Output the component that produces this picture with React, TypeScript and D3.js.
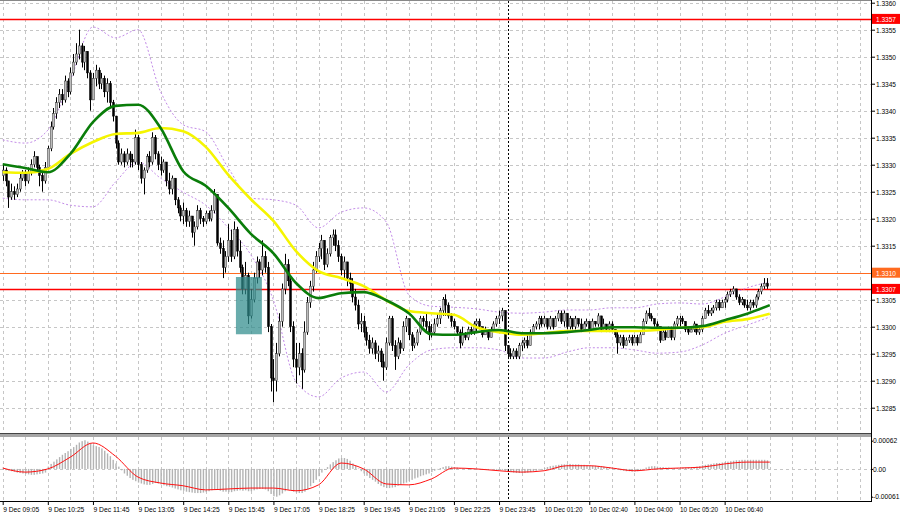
import React, { useEffect, useRef } from 'react';
import * as d3 from 'd3';

// prices are stored in pips above 1.3300
const BASE = 1.33;
const FIRST_OPEN = 28;

const closes = [
  29, 27, 24, 25, 24.5, 25.5, 27.5, 28.5,
  27, 28.5, 30, 31.5, 29.5, 28, 27, 29.5,
  33, 37, 39.5, 41.5, 43, 42, 45.5, 43.5,
  47, 49, 50.5, 52, 49, 51, 47, 42,
  46, 47.5, 45, 46, 43.5, 45, 41.5, 39,
  34, 30.5, 32, 30.5, 32, 31, 30.5, 35,
  30, 27.5, 29, 31.5, 30.5, 35, 32, 30,
  29, 30.5, 27, 25.5, 27.5, 23.5, 22, 20.5,
  21.5, 19.5, 20.5, 17.5, 18.5, 21.5, 20, 19.5,
  21, 20, 21.5, 24.5, 15.5, 14.5, 11, 13,
  16, 13, 18, 14, 11, 7, 9.5, 2,
  5, 9, 12, 10.5, 13, 11, 0, -9.5,
  -10, -5, 1, 7, 11.5, 8.5, 0, -6,
  -7.5, -5, -8, -1, 4.5, 7.5, 10.5, 13,
  14.5, 16, 11.5, 13.5, 16.5, 17, 15, 13,
  10.5, 12, 9, 8, 5.5, 4, 0.5, 1,
  -1, -2.5, -4, -3, -5, -4.5, -6.5, -7.5,
  -3, 1.5, -3.5, -5.5, -3, -4, 0, 1.5,
  -1.5, -3.5, -3, -1, 1.5, 1, 0, -1.5,
  -1, 0.5, 1.5, 3, 5, 4, 2, 1,
  0, -1, -3, -1.5, -2, -0.5, -1, 0.5,
  1, 0, -1.5, -0.5, -2, -0.5, 0.5, 1.5,
  2, 3, -3.5, -5, -5.5, -4.5, -5.5, -3.5,
  -3, -2.5, -3.5, -1, 0, 0.5, 1.5, 0.5,
  1.5, 0, 1.5, 0, 1.5, 2.5, 1, 2.5,
  0, 1.5, 0, 1.5, 0.5, -0.5, 0.5, 1,
  -0.5, 1, 0.5, 2, -0.5, 0.5, -0.5, 0.5,
  -0.5, -1.5, -3, -2, -3.5, -2.5, -2, -3,
  -2, -3, -1.5, 1, 2.5, 2, 1.5, 0.5,
  0, -2.5, -1, -2, -0.5, -2, 0.5, 1.5,
  1.5, 1, -0.5, -1, -0.5, 0.5, -1, -0.5,
  1.5, 3, 2.5, 3, 3.5, 4.5, 3.5, 4.5,
  5, 6, 6.5, 7, 5.5, 4.5, 5, 4,
  3.5, 4.5, 4, 5.5, 6.5, 7.5, 8, 7.5,
];

const highs = [
  30, 29.5, 27, 26.5, 26, 26.5, 28.5, 29,
  29, 29.5, 31, 32.5, 31.5, 30, 29, 30.5,
  33.5, 38, 40.5, 42.5, 44, 44, 46.5, 46,
  48, 50.5, 52.5, 55, 52.5, 52, 51, 47.5,
  47, 48.5, 48, 47, 46.5, 46, 45.5, 42,
  39, 34.5, 33, 32.5, 33, 32.5, 32, 36.5,
  35.5, 30.5, 29.5, 32, 32.5, 36, 35.5, 32.5,
  31.5, 31, 30.5, 28.5, 28, 27.5, 24, 22.5,
  23, 22, 21.5, 20.5, 19.5, 22.5, 22, 20.5,
  21.5, 21.5, 22.5, 25.5, 24.5, 16.5, 16, 14,
  19, 18, 19.5, 18.5, 16, 11.5, 12, 10,
  7, 10, 13, 12.5, 16, 14, 12, 0.5,
  -6, -3, 2.5, 8, 13.5, 12.5, 9, 1,
  -3, -3, -4, 1, 5.5, 8.5, 12, 14,
  15.5, 17, 16, 14.5, 17, 18, 18, 16,
  13.5, 13, 12, 10, 9, 7, 5, 2.5,
  2, 0, -1.5, -2, -2.5, -3.5, -4, -5,
  -2, 2, 2, -2.5, -2, -2.5, 1, 2,
  1, -1, -2, -0.5, 2, 2, 2.5, 1,
  0.5, 1.5, 2.5, 3.5, 5.5, 6, 4.5, 2.5,
  1.5, 0, -0.5, 0, -1, 0, 0, 1,
  1.5, 1.5, 0, 0, -0.5, 0, 1, 2,
  3, 3.5, 3, -3.5, -4, -4, -4, -3,
  -2.5, -2, -1.5, -0.5, 0.5, 1, 2, 2,
  2, 1.5, 2, 1.5, 2, 3, 3, 3,
  2.5, 2, 1.5, 2, 1.5, 1.5, 1, 1.5,
  1, 1.5, 1, 2.5, 2, 1.5, 0.5, 1,
  1, -0.5, -1, -1.5, -1.5, -2, -1.5, -1.5,
  -1.5, -1.5, -1, 1.5, 3, 3.5, 2.5, 1.5,
  1, 0, -0.5, -0.5, 0, 0, 1, 2,
  2, 2, 1, 0, 0, 1, 0.5, 0,
  2, 3.5, 4, 3.5, 4, 5, 5, 5,
  5.5, 6.5, 7, 7.5, 7, 6, 5.5, 5,
  5, 5, 5, 6, 7, 8, 9, 9,
];

const lows = [
  27, 26, 22, 23.5, 23.5, 24, 25, 27,
  26, 26.5, 28, 29.5, 28.5, 26, 25, 26.5,
  29, 32.5, 36.5, 38.5, 40.5, 41, 41.5, 42.5,
  43, 46.5, 48.5, 49.5, 48, 47.5, 46, 40,
  42, 44.5, 44, 44, 42.5, 41.5, 40.5, 38,
  33, 30, 30, 29.5, 30, 29.5, 29.5, 30,
  29, 26.5, 24.5, 28.5, 29.5, 30, 31, 29,
  28, 28.5, 26, 24.5, 24.5, 22.5, 21, 19.5,
  19, 18.5, 18.5, 16.5, 15, 18, 19, 18.5,
  19, 19.5, 19.5, 21, 15, 13.5, 9, 10,
  12, 12, 12.5, 13, 10, 6, 6, 0.5,
  1.5, 4.5, 8, 9, 9.5, 10, -1, -12,
  -14, -12, -5.5, 0, 6, 7.5, -1, -7.5,
  -10.5, -9, -11.5, -8.5, -1.5, 3.5, 6.5, 10,
  12, 12.5, 10.5, 11, 13, 15, 14, 12,
  9.5, 9, 7.5, 6.5, 4.5, 3, -0.5, -1,
  -2, -3.5, -5, -5, -6, -6.5, -7.5, -10,
  -8, -3.5, -4.5, -8, -6, -5, -4.5, -1,
  -2.5, -4.5, -4, -3.5, -1.5, 0, -1, -2.5,
  -2, -1.5, 0, 0.5, 2, 2, 1.5, 0,
  -0.5, -1.5, -4, -3.5, -2.5, -2.5, -1.5, -1.5,
  -1, -0.5, -2, -1.5, -2.5, -2, -1, 0,
  0.5, 1, -4.5, -6, -6, -6, -6, -6,
  -4.5, -4, -4, -3.5, -1.5, -0.5, -0.5, 0,
  0, -0.5, -0.5, -0.5, 0, 1, 0.5, 0,
  -0.5, -0.5, -0.5, -0.5, 0, -1, -0.5, 0,
  -1, -0.5, 0, 0, -1, -0.5, -1, -1,
  -1, -2, -5, -3.5, -4, -3.5, -3, -3.5,
  -3, -3.5, -3, -1.5, 0.5, 1.5, 1, 0,
  -0.5, -3, -2.5, -2.5, -2, -2.5, -2.5, 0,
  0, 0.5, -1, -1.5, -1, -1, -1.5, -1.5,
  -1, 1.5, 2, 2, 2.5, 3, 3, 3.5,
  3.5, 4.5, 5.5, 6, 5, 4, 4, 3.5,
  3, 3, 3.5, 3.5, 5, 6, 7, 7,
];

// indicator lines read every 8 bars (pips above 1.3300)
const LINE_STEP = 8;
const maGreen = [30.1, 29.4, 28.6, 32.0, 37.9, 40.9, 41.1, 36.8, 28.8, 26.1, 22.0, 17.2, 13.6, 8.1, 5.3, 6.2, 6.4, 4.9, 2.5, -1.4, -1.5, -1.0, -0.6, -1.2, -1.2, -1.0, -0.6, -0.1, -0.1, -0.2, -0.2, 0.1, 1.2, 2.4, 4.0];
const maYellow = [28.6, 28.5, 29.2, 32.0, 34.2, 35.7, 35.9, 36.8, 36.2, 33.3, 28.1, 23.6, 19.6, 14.0, 10.3, 9.0, 7.5, 4.9, 2.9, 2.5, 2.2, -0.1, -1.0, -1.5, -1.2, -0.8, -0.8, -0.8, -0.8, -0.6, -0.2, -0.1, 0.9, 1.4, 2.4];
const bandUpper = [34.6, 34.0, 36.4, 45.7, 55.5, 53.5, 55.0, 43.5, 37.4, 36.1, 29.4, 23.8, 23.5, 22.5, 18.3, 21.2, 22.0, 19.4, 5.9, 3.8, 3.6, 3.3, 2.7, 2.5, 2.7, 3.1, 3.1, 3.5, 3.5, 4.2, 4.4, 4.2, 5.5, 7.2, 8.3];
const bandLower = [23.8, 23.5, 23.5, 22.5, 22.2, 26.8, 30.5, 27.5, 24.9, 22.5, 18.3, 13.3, 4.9, -10.2, -13.0, -9.5, -8.4, -12.1, -7.1, -4.3, -3.9, -3.9, -4.3, -5.8, -5.8, -4.7, -3.9, -3.9, -4.3, -4.9, -4.7, -3.4, -1.2, 0.3, 1.8];

// MACD histogram per bar and signal every 8 bars, in units of 0.00001
const macdHist = [
  -2, -3, -4, -5, -6, -8, -9, -10,
  -11, -12, -13, -13, -12, -11, -10, -8,
  5, 11, 16, 21, 26, 31, 35, 39,
  44, 48, 53, 58, 61, 63, 60, 56,
  52, 50, 48, 45, 40, 34, 28, 20,
  12, 5, -3, -10, -15, -20, -24, -27,
  -30, -32, -34, -35, -35, -33, -31, -32,
  -34, -36, -38, -39, -41, -43, -45, -47,
  -48, -50, -51, -52, -53, -53, -53, -52,
  -51, -49, -47, -45, -46, -48, -50, -50,
  -51, -51, -49, -48, -47, -48, -47, -49,
  -49, -47, -45, -44, -44, -45, -49, -55,
  -60, -61, -58, -54, -49, -46, -47, -50,
  -52, -53, -53, -50, -45, -38, -31, -24,
  -16, -8, -2, 4, 10, 15, 19, 23,
  24, 24, 22, 18, 12, 7, 1, -5,
  -10, -15, -20, -24, -28, -33, -37, -40,
  -42, -42, -41, -40, -37, -35, -32, -30,
  -27, -24, -21, -19, -16, -14, -12, -10,
  -7, -4, -1, 2, 4, 6, 6, 5,
  4, 3, 2, 1, 1, 0, 0, 0,
  0, -1, -1, -1, -2, -1, -1, -2,
  -2, -2, -4, -6, -7, -8, -9, -9,
  -9, -9, -8, -7, -5, -4, -2, 0,
  2, 4, 6, 7, 8, 9, 10, 10,
  10, 11, 10, 10, 10, 9, 9, 8,
  8, 7, 7, 6, 6, 5, 4, 3,
  2, 0, -2, -3, -4, -5, -5, -6,
  -6, -5, -3, 0, 3, 5, 6, 6,
  5, 4, 4, 3, 3, 2, 2, 2,
  2, 3, 3, 3, 4, 4, 5, 6,
  8, 9, 10, 11, 12, 13, 13, 14,
  15, 16, 17, 18, 19, 19, 20, 20,
  20, 20, 20, 20, 20, 20, 20, 19,
];
const macdSignal = [2, -7, 0, 26, 57, 28, -18, -31, -37, -46, -44, -42, -42, -48, -35, 13, 0, -33, -35, -22, 2, 0, -4, -7, -4, 7, 7, 2, -4, 0, 2, 4, 11, 15, 15];

const priceTicks = [1.3285, 1.329, 1.3295, 1.33, 1.3305, 1.331, 1.3315, 1.332, 1.3325, 1.333, 1.3335, 1.334, 1.3345, 1.335, 1.3355, 1.336];
const subTicks = [0.00062, 0, -0.00061];
const subTickLabels = ['0.00062', '0.00', '-0.00061'];

const timeLabels = [
  '9 Dec 09:05', '9 Dec 10:25', '9 Dec 11:45', '9 Dec 13:05', '9 Dec 14:25', '9 Dec 15:45',
  '9 Dec 17:05', '9 Dec 18:25', '9 Dec 19:45', '9 Dec 21:05', '9 Dec 22:25', '9 Dec 23:45',
  '10 Dec 01:20', '10 Dec 02:40', '10 Dec 04:00', '10 Dec 05:20', '10 Dec 06:40',
];
const LABEL_STEP = 16;
const daySeparator = 179;

const levels = [1.3357, 1.331, 1.3307];
const levelColors = ['#ff0000', '#ff6a1f', '#ff0000'];

// highlighted zone: bar range and price range
const zoneBars = [82.7, 91.9];
const zonePrices = [1.32986, 1.33092];

const W = 900;
const H = 516;

const App: React.FC = () => {
  const svgRef = useRef<SVGSVGElement>(null);

  useEffect(() => {
    if (!svgRef.current) return;
    const svg = d3.select(svgRef.current);
    svg.selectAll('*').remove();

    const plotRight = 871;
    const mainBottom = 433;
    const subTop = 437;
    const subBottom = 501;
    const labelFont = '"Liberation Sans", Arial, sans-serif';
    const gridColor = '#c6c6c6';

    const x = d3.scaleLinear().domain([0, 308]).range([2.7, 871.3]);
    const y = d3.scaleLinear().domain([1.328, 1.336]).range([434.7, 2.7]);
    const yi = d3.scaleLinear().domain([-0.00061, 0.00062]).range([496.7, 440.7]);
    const toPrice = (p: number) => BASE + p / 10000;

    svg.append('rect').attr('width', W).attr('height', H).attr('fill', '#fff');

    const defs = svg.append('defs');
    defs.append('clipPath').attr('id', 'clipMain')
      .append('rect').attr('x', 0).attr('y', 1).attr('width', plotRight).attr('height', mainBottom - 1);
    defs.append('clipPath').attr('id', 'clipSub')
      .append('rect').attr('x', 0).attr('y', subTop).attr('width', plotRight).attr('height', subBottom - subTop);

    // Grid
    const vGrid = d3.range(0, 309, LINE_STEP).filter(i => x(i) < plotRight - 2);
    const gridG = svg.append('g').attr('stroke', gridColor).attr('stroke-dasharray', '3,3').attr('stroke-width', 1);
    vGrid.forEach(i => {
      const gx = Math.round(x(i)) + 0.5;
      gridG.append('line').attr('x1', gx).attr('x2', gx).attr('y1', 1).attr('y2', mainBottom);
      gridG.append('line').attr('x1', gx).attr('x2', gx).attr('y1', subTop).attr('y2', subBottom);
    });
    priceTicks.forEach(p => {
      const gy = Math.round(y(p)) + 0.5;
      if (gy > mainBottom - 1 || gy < 2) return;
      gridG.append('line').attr('x1', 0).attr('x2', plotRight).attr('y1', gy).attr('y2', gy);
    });
    gridG.append('line').attr('x1', 0).attr('x2', plotRight)
      .attr('y1', Math.round(yi(0)) + 0.5).attr('y2', Math.round(yi(0)) + 0.5);

    const main = svg.append('g').attr('clip-path', 'url(#clipMain)');

    // Level lines
    levels.forEach((lv, k) => {
      const ly = Math.round(y(lv)) + 0.5;
      main.append('line').attr('x1', 0).attr('x2', plotRight).attr('y1', ly).attr('y2', ly)
        .attr('stroke', levelColors[k]).attr('stroke-width', k === 1 ? 1 : 1.5);
    });

    // Bollinger bands
    const lineFor = d3.line<number>()
      .x((d, i) => x(i * LINE_STEP))
      .y(d => y(toPrice(d)))
      .curve(d3.curveMonotoneX);
    [bandUpper, bandLower].forEach(band => {
      main.append('path').datum(band).attr('fill', 'none')
        .attr('stroke', '#c38ce8').attr('stroke-width', 1).attr('stroke-dasharray', '2,2')
        .attr('d', lineFor);
    });

    // Candles
    const candles = main.append('g');
    closes.forEach((c, i) => {
      const o = i === 0 ? FIRST_OPEN : closes[i - 1];
      const hi = Math.max(highs[i], o, c);
      const lo = Math.min(lows[i], o, c);
      const xc = Math.round(x(i));
      candles.append('line')
        .attr('x1', xc + 0.5).attr('x2', xc + 0.5)
        .attr('y1', y(toPrice(hi))).attr('y2', y(toPrice(lo)))
        .attr('stroke', '#000').attr('stroke-width', 1);
      const top = y(toPrice(Math.max(o, c)));
      const bot = y(toPrice(Math.min(o, c)));
      const bull = c >= o;
      candles.append('rect')
        .attr('x', xc - 0.5).attr('width', 2)
        .attr('y', top).attr('height', Math.max(1, bot - top))
        .attr('fill', bull ? '#bdbdbd' : '#000')
        .attr('stroke', bull ? '#333' : '#000').attr('stroke-width', 0.5);
    });

    // Moving averages
    main.append('path').datum(maYellow).attr('fill', 'none')
      .attr('stroke', '#f5f500').attr('stroke-width', 2.6).attr('d', lineFor);
    main.append('path').datum(maGreen).attr('fill', 'none')
      .attr('stroke', '#0a7d0a').attr('stroke-width', 2.6).attr('d', lineFor);

    // Highlighted zone
    main.append('rect')
      .attr('x', x(zoneBars[0])).attr('width', x(zoneBars[1]) - x(zoneBars[0]))
      .attr('y', y(zonePrices[1])).attr('height', y(zonePrices[0]) - y(zonePrices[1]))
      .attr('fill', '#2f8c8c').attr('opacity', 0.72);

    // MACD panel
    const sub = svg.append('g').attr('clip-path', 'url(#clipSub)');
    macdHist.forEach((v, i) => {
      const val = v / 100000;
      const y0 = yi(0);
      const y1 = yi(val);
      sub.append('rect')
        .attr('x', x(i) - 0.2).attr('width', 1.4)
        .attr('y', Math.min(y0, y1)).attr('height', Math.max(0.5, Math.abs(y1 - y0)))
        .attr('fill', '#b3b3b3');
    });
    const sigLine = d3.line<number>()
      .x((d, i) => x(i * LINE_STEP))
      .y(d => yi(d / 100000))
      .curve(d3.curveMonotoneX);
    sub.append('path').datum(macdSignal).attr('fill', 'none')
      .attr('stroke', '#ff1010').attr('stroke-width', 1).attr('d', sigLine);

    // Day separator
    const sx = Math.round(x(daySeparator)) + 0.5;
    svg.append('line').attr('x1', sx).attr('x2', sx).attr('y1', 1).attr('y2', subBottom)
      .attr('stroke', '#000').attr('stroke-width', 1).attr('stroke-dasharray', '2,2');

    // Frames
    svg.append('line').attr('x1', 0).attr('x2', plotRight).attr('y1', 0.5).attr('y2', 0.5)
      .attr('stroke', '#888').attr('stroke-width', 1);
    svg.append('rect').attr('x', 0).attr('y', mainBottom).attr('width', plotRight).attr('height', 4)
      .attr('fill', '#a6a6a6');
    svg.append('line').attr('x1', 0).attr('x2', plotRight).attr('y1', mainBottom + 0.5).attr('y2', mainBottom + 0.5)
      .attr('stroke', '#444');
    svg.append('line').attr('x1', 0).attr('x2', plotRight).attr('y1', subBottom + 0.5).attr('y2', subBottom + 0.5)
      .attr('stroke', '#000');
    svg.append('line').attr('x1', plotRight + 0.5).attr('x2', plotRight + 0.5).attr('y1', 0).attr('y2', subBottom + 1)
      .attr('stroke', '#000');

    // Price axis
    const priceAxis = svg.append('g')
      .attr('transform', `translate(${plotRight + 1},0)`)
      .call(d3.axisRight(y).tickValues(priceTicks).tickSize(3).tickPadding(1).tickFormat(d3.format('.4f')));
    priceAxis.select('.domain').remove();
    priceAxis.selectAll('text')
      .style('font-family', labelFont).style('font-size', '8px').attr('fill', '#000')
      .attr('textLength', 20).attr('lengthAdjust', 'spacingAndGlyphs');

    // Level labels
    levels.forEach((lv, k) => {
      const ly = y(lv);
      svg.append('rect').attr('x', plotRight + 1).attr('y', ly - 5).attr('width', 29).attr('height', 10)
        .attr('fill', levelColors[k]);
      svg.append('text').attr('x', plotRight + 5).attr('y', ly + 3)
        .style('font-family', labelFont).style('font-size', '8px').attr('fill', '#fff')
        .attr('textLength', 20).attr('lengthAdjust', 'spacingAndGlyphs')
        .text(d3.format('.4f')(lv));
    });

    // Indicator axis
    const subAxis = svg.append('g')
      .attr('transform', `translate(${plotRight + 1},0)`)
      .call(d3.axisRight(yi).tickValues(subTicks).tickSize(1).tickPadding(0)
        .tickFormat((d, i) => subTickLabels[i]));
    subAxis.select('.domain').remove();
    subAxis.selectAll('text')
      .style('font-family', labelFont).style('font-size', '6.7px').attr('fill', '#000');

    // Time axis
    const timeAxis = svg.append('g')
      .attr('transform', `translate(0,${subBottom + 1})`)
      .call(d3.axisBottom(x).tickValues(timeLabels.map((_, j) => j * LABEL_STEP)).tickSize(3)
        .tickFormat((d, j) => timeLabels[j]));
    timeAxis.select('.domain').remove();
    timeAxis.selectAll('text')
      .style('font-family', labelFont).style('font-size', '8px')
      .attr('fill', '#000').attr('text-anchor', 'start').attr('dx', 0).attr('y', 4)
      .attr('textLength', (d, j) => (timeLabels[j].length > 11 ? 38 : 36))
      .attr('lengthAdjust', 'spacingAndGlyphs');
  }, []);

  return (
    <svg
      ref={svgRef}
      width={W}
      height={H}
      style={{ position: 'absolute', left: 0, top: 0, display: 'block' }}
    />
  );
};

export default App;
